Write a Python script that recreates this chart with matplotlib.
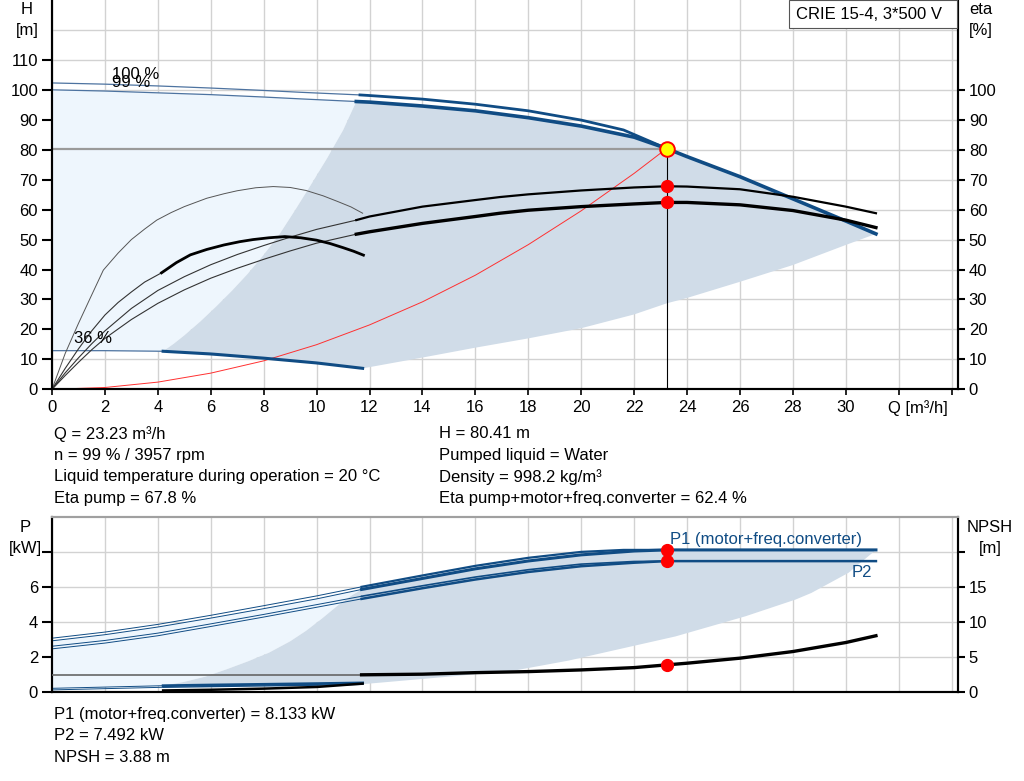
import matplotlib
matplotlib.use("Agg")
import matplotlib.pyplot as plt
from matplotlib.patches import Rectangle

plt.rcParams['font.family'] = ['Liberation Sans', 'DejaVu Sans']
plt.rcParams['font.size'] = 12

# ---------------- dati ----------------
# punto di lavoro
q_op = 23.23
h_op = 80.41
eta_pump_op = 67.8
eta_tot_op = 62.4
p1_op = 8.133
p2_op = 7.492
npsh_op = 3.88

# curva H a 100 %
q_h100_thin = [0, 2, 4, 6, 8, 9.35, 11.64]
h100_thin = [102.3, 101.9, 101.3, 100.6, 99.8, 99.2, 98.3]
q_h100_thick = [11.64, 12, 14, 16, 18, 20, 21.6, 23.23]
h100_thick = [98.3, 98.1, 96.9, 95.2, 93.0, 89.9, 86.6, 80.41]

# curva H a 99 %
q_h99_thin = [0, 2, 4, 6, 8, 9.35, 11.5]
h99_thin = [100.0, 99.6, 99.0, 98.4, 97.6, 97.0, 96.1]
q_h99_thick = [11.5, 12, 14, 16, 18, 20, 22, 23.23, 24, 26, 28, 30, 31.14]
h99_thick = [96.1, 95.9, 94.6, 93.0, 90.7, 87.9, 84.2, 80.41, 77.7, 71.0, 63.6, 56.2, 51.9]

# curva H a 36 %
q_h36_thin = [0, 2, 4.2]
h36_thin = [12.9, 12.9, 12.7]
q_h36_thick = [4.2, 6, 8, 10, 11.74]
h36_thick = [12.7, 11.8, 10.4, 8.8, 7.0]

# bordi della zona di lavoro (H)
q_dark_left = [4.2, 4.6, 5.0, 5.6, 6.2, 6.8, 7.4, 8.0, 8.6, 9.2, 9.8, 10.4, 11.0, 11.5]
h_dark_left = [12.7, 15.2, 18.0, 22.6, 27.6, 32.9, 38.6, 44.9, 51.8, 60.0, 68.5, 77.2, 86.5, 96.1]
q_dark_low = [11.74, 12, 14, 16, 18, 20, 22, 23.23, 24, 26, 28, 30, 31.14]
h_dark_low = [7.0, 7.4, 10.6, 13.9, 17.0, 20.4, 25.0, 28.7, 30.5, 35.9, 41.5, 48.2, 51.9]

# curva di impianto
q_sys = [0, 2, 4, 6, 8, 10, 12, 14, 16, 18, 20, 22, 23.23]
h_sys = [0, 0.6, 2.4, 5.4, 9.5, 14.9, 21.5, 29.2, 38.1, 48.3, 59.6, 72.1, 80.41]

# rendimenti
q_eta_p36 = [0, 0.5, 1, 1.5, 1.94, 2.5, 3, 3.5, 3.96, 4.5, 5, 5.85, 6.5, 7, 7.7, 8.36,
             9, 9.6, 10.25, 10.8, 11.3, 11.74]
eta_p36 = [0, 12.0, 22.0, 31.5, 39.8, 45.5, 50.0, 53.5, 56.5, 59.0, 61.0, 63.8, 65.3, 66.3,
           67.3, 67.7, 67.4, 66.4, 64.6, 62.7, 60.9, 58.8]
q_eta_t36_thin = [0, 0.5, 1, 1.5, 2, 2.5, 3, 3.5, 4.14]
eta_t36_thin = [0, 7.0, 13.5, 19.5, 24.8, 29.0, 32.5, 35.8, 38.9]
q_eta_t36_thick = [4.14, 4.7, 5.23, 5.85, 6.5, 7.1, 7.6, 8.2, 8.8, 9.4, 10, 10.5, 11, 11.4, 11.77]
eta_t36_thick = [38.9, 42.3, 44.9, 46.7, 48.2, 49.3, 50.0, 50.6, 51.0, 50.6, 49.8, 48.7, 47.3,
                 46.1, 44.8]
q_eta_p99_thin = [0, 0.5, 1, 1.5, 2, 3, 4, 5, 6, 7, 8, 9, 10, 11.5]
eta_p99_thin = [0, 5.5, 10.5, 15.2, 19.5, 27.0, 33.0, 37.6, 41.6, 45.0, 48.0, 50.8, 53.4, 56.5]
q_eta_p99_thick = [11.5, 12, 14, 16, 16.93, 18, 20, 22, 23.23, 24, 26, 28, 30, 31.14]
eta_p99_thick = [56.5, 57.7, 61.0, 63.2, 64.2, 65.1, 66.4, 67.4, 67.8, 67.7, 66.8, 64.3, 61.0, 58.8]
q_eta_t99_thin = [0, 0.5, 1, 1.5, 2, 3, 4, 5, 6, 7, 8, 9, 10, 11.5]
eta_t99_thin = [0, 4.6, 9.0, 13.2, 17.0, 23.3, 28.7, 33.2, 37.1, 40.4, 43.4, 46.2, 48.8, 51.8]
q_eta_t99_thick = [11.5, 12, 14, 16, 16.93, 18, 20, 22, 23.23, 24, 26, 28, 30, 31.14]
eta_t99_thick = [51.8, 52.6, 55.4, 57.7, 58.8, 59.8, 61.0, 61.9, 62.4, 62.4, 61.6, 59.7, 56.5, 54.0]

# potenze
q_p_thin = [0, 2, 4, 6, 8, 10, 11.7]
p1_100_thin = [3.08, 3.43, 3.87, 4.39, 4.94, 5.50, 6.02]
p1_99_thin = [2.93, 3.28, 3.72, 4.23, 4.77, 5.33, 5.87]
p2_100_thin = [2.62, 2.95, 3.37, 3.90, 4.44, 5.00, 5.48]
p2_99_thin = [2.47, 2.80, 3.22, 3.75, 4.29, 4.85, 5.33]
q_p1_100_thick = [11.7, 14, 16, 18, 20, 21.6, 23.23]
p1_100_thick = [6.02, 6.67, 7.22, 7.68, 8.02, 8.133, 8.133]
q_p99_thick = [11.7, 14, 16, 18, 20, 22, 23.23, 31.14]
p1_99_thick = [5.87, 6.50, 7.05, 7.50, 7.85, 8.07, 8.133, 8.133]
p2_99_thick = [5.33, 5.94, 6.44, 6.87, 7.20, 7.40, 7.492, 7.492]
q_p2_100_thick = [11.7, 14, 16, 18, 20, 22, 23.23]
p2_100_thick = [5.48, 6.08, 6.58, 7.00, 7.32, 7.47, 7.492]

q_p36_thin = [0, 4.2]
p1_36_thin = [0.21, 0.36]
p2_36_thin = [0.12, 0.27]
q_p36_thick = [4.2, 6, 8, 10, 11.74]
p1_36_thick = [0.36, 0.40, 0.44, 0.48, 0.52]
p2_36_thick = [0.27, 0.31, 0.35, 0.39, 0.44]

# bordi della zona di lavoro (P)
q_pdark_left = [4.2, 5.0, 5.8, 6.6, 7.4, 8.2, 9.0, 9.6, 10.2, 10.8, 11.3, 11.7]
p_dark_left = [0.36, 0.58, 0.88, 1.30, 1.75, 2.25, 2.90, 3.50, 4.20, 4.95, 5.50, 5.87]
q_pdark_low = [11.76, 14.4, 17.38, 19.53, 23.56, 26.2, 28.1, 28.7, 30.1, 31.14]
p_dark_low = [0.45, 0.80, 1.20, 1.80, 3.18, 4.33, 5.29, 5.67, 6.82, 8.133]

# NPSH
q_npsh_thin = [0, 11.7]
npsh_thin = [2.47, 2.47]
q_npsh = [11.7, 14, 16, 18, 20, 22, 23.23, 24, 26, 28, 30, 31.14]
npsh = [2.46, 2.55, 2.77, 2.92, 3.16, 3.49, 3.88, 4.12, 4.84, 5.79, 7.08, 8.05]
q_npsh36 = [4.2, 6, 8, 10, 11.74]
npsh36 = [0.22, 0.32, 0.48, 0.72, 1.20]

# assi
x_ticks = list(range(0, 36, 2))
x_labels = [str(v) if v <= 30 else '' for v in x_ticks]
h_ticks = list(range(0, 120, 10))
eta_ticks = list(range(0, 110, 10))
p_ticks = [0, 2, 4, 6, 8]
p_labels = ['0', '2', '4', '6', '']
npsh_ticks = [0, 5, 10, 15, 20]
npsh_labels = ['0', '5', '10', '15', '']

info_left = ["Q = 23.23 m³/h", "n = 99 % / 3957 rpm",
             "Liquid temperature during operation = 20 °C", "Eta pump = 67.8 %"]
info_right = ["H = 80.41 m", "Pumped liquid = Water", "Density = 998.2 kg/m³",
              "Eta pump+motor+freq.converter = 62.4 %"]
info_bottom = ["P1 (motor+freq.converter) = 8.133 kW", "P2 = 7.492 kW", "NPSH = 3.88 m"]

BLU = '#104c84'
BLU_THIN = '#4d73a0'
CHIARO = '#eef6fd'
SCURO = '#d0dce8'
GRIGLIA = '#d2d2d2'
W, H = 1024, 781


def px(x, y):
    # coordinate in pixel -> frazione di figura
    return x / W, 1 - y / H


def prepara_asse(ax, ylim, yticks):
    ax.set_xlim(0, 34.23)
    ax.set_ylim(*ylim)
    ax.set_xticks(x_ticks)
    ax.set_yticks(yticks)
    ax.grid(True, color=GRIGLIA, linewidth=1.0, zorder=0)
    ax.set_axisbelow(True)
    for lato in ['left', 'bottom', 'right']:
        ax.spines[lato].set_linewidth(1.5)
    ax.spines['top'].set_visible(False)


fig = plt.figure(figsize=(W / 100, H / 100), dpi=100)

# ---------------- grafico H / eta ----------------
ax1 = fig.add_axes([52 / W, 1 - 389.3 / H, 905.7 / W, 389.3 / H])
prepara_asse(ax1, (0, 130), h_ticks)
ax1.set_xticklabels(x_labels)
ax1.tick_params(axis='x', length=4, width=1.2, pad=4)
ax1.tick_params(axis='y', length=7, width=1.5, pad=3)
ax1.yaxis.grid(False)
for yv in range(10, 130, 10):
    ax1.axhline(yv, color=GRIGLIA, linewidth=1.0, zorder=0)

# zone di lavoro
ax1.fill(q_h99_thin + q_dark_left[::-1] + q_h36_thin[::-1],
         h99_thin + h_dark_left[::-1] + h36_thin[::-1], color=CHIARO, lw=0, zorder=1)
ax1.fill(q_h99_thick + q_dark_low[::-1] + q_h36_thick[::-1] + q_dark_left,
         h99_thick + h_dark_low[::-1] + h36_thick[::-1] + h_dark_left,
         color=SCURO, lw=0, zorder=1)

# linee del punto di lavoro
ax1.plot([0, q_op], [h_op, h_op], color='#9a9a9a', lw=1.6, zorder=2)
ax1.plot([q_op, q_op], [0, h_op], color='black', lw=0.8, zorder=2)

# curve H
ax1.plot(q_h100_thin, h100_thin, color=BLU_THIN, lw=0.9, zorder=3)
ax1.plot(q_h99_thin, h99_thin, color=BLU_THIN, lw=0.9, zorder=3)
ax1.plot(q_h36_thin, h36_thin, color=BLU_THIN, lw=0.9, zorder=3)
ax1.plot(q_h100_thick, h100_thick, color=BLU, lw=2.0, zorder=4)
ax1.plot(q_h99_thick, h99_thick, color=BLU, lw=2.6, zorder=4)
ax1.plot(q_h36_thick, h36_thick, color=BLU, lw=2.2, zorder=4)

# rendimenti
ax1.plot(q_eta_p36, eta_p36, color='#555555', lw=0.7, zorder=3)
ax1.plot(q_eta_t36_thin, eta_t36_thin, color='#333333', lw=0.8, zorder=3)
ax1.plot(q_eta_t36_thick, eta_t36_thick, color='black', lw=2.0, zorder=4)
ax1.plot(q_eta_p99_thin, eta_p99_thin, color='#333333', lw=0.8, zorder=3)
ax1.plot(q_eta_p99_thick, eta_p99_thick, color='black', lw=1.6, zorder=4)
ax1.plot(q_eta_t99_thin, eta_t99_thin, color='#333333', lw=0.8, zorder=3)
ax1.plot(q_eta_t99_thick, eta_t99_thick, color='black', lw=2.4, zorder=4)

# curva di impianto
ax1.plot(q_sys, h_sys, color='#ff3030', lw=0.7, zorder=3)

# punti
ax1.plot(q_op, eta_pump_op, 'o', color='red', ms=8.5, zorder=6)
ax1.plot(q_op, eta_tot_op, 'o', color='red', ms=8.5, zorder=6)
ax1.plot(q_op, h_op, 'o', color='#ffff00', mec='red', mew=1.4, ms=10.5, zorder=6)

ax1.text(2.27, 105, "100 %", va='center', ha='left', zorder=5)
ax1.text(2.27, 102.6, "99 %", va='center', ha='left', zorder=5)
ax1.text(0.83, 16.8, "36 %", va='center', ha='left', zorder=5)

ax1r = ax1.twinx()
ax1r.set_ylim(0, 130)
ax1r.set_yticks(eta_ticks)
ax1r.tick_params(axis='y', length=5, width=1.5, pad=3)
for lato in ['left', 'bottom', 'right']:
    ax1r.spines[lato].set_linewidth(1.5)
ax1r.spines['top'].set_visible(False)

# riquadro del modello
fig.patches.append(Rectangle(px(789.3, 28.3), 167.4 / W, 28.3 / H, transform=fig.transFigure,
                             facecolor='white', edgecolor='#555555', lw=0.8, zorder=10))
fig.text(*px(796, 14.5), "CRIE 15-4, 3*500 V", va='center', ha='left', zorder=11)

# etichette assi
fig.text(*px(27, 10), "H", ha='center', va='center')
fig.text(*px(27, 30), "[m]", ha='center', va='center')
fig.text(*px(981, 10), "eta", ha='center', va='center')
fig.text(*px(981, 30), "[%]", ha='center', va='center')
fig.text(*px(888, 408), "Q [m³/h]", ha='left', va='center')

for i, riga in enumerate(info_left):
    fig.text(*px(54, 434 + i * 21.5), riga, ha='left', va='center')
for i, riga in enumerate(info_right):
    fig.text(*px(439, 434 + i * 21.5), riga, ha='left', va='center')

# ---------------- grafico P / NPSH ----------------
ax2 = fig.add_axes([52 / W, 1 - 692 / H, 905.7 / W, 174.7 / H])
prepara_asse(ax2, (0, 10), p_ticks)
ax2.set_yticklabels(p_labels)
ax2.tick_params(axis='x', length=0, labelbottom=False)
ax2.tick_params(axis='y', length=7, width=1.5, pad=3)
ax2.spines['top'].set_visible(True)
ax2.spines['top'].set_color('#a0a0a0')
ax2.spines['top'].set_linewidth(1.5)

ax2.fill(q_p_thin + q_pdark_left[::-1] + q_p36_thin[::-1],
         p1_99_thin + p_dark_left[::-1] + p1_36_thin[::-1], color=CHIARO, lw=0, zorder=1)
ax2.fill(q_p99_thick + q_pdark_low[::-1] + q_p36_thick[::-1] + q_pdark_left,
         p1_99_thick + p_dark_low[::-1] + p1_36_thick[::-1] + p_dark_left,
         color=SCURO, lw=0, zorder=1)

for serie in [p1_100_thin, p1_99_thin, p2_100_thin, p2_99_thin]:
    ax2.plot(q_p_thin, serie, color=BLU, lw=0.7, zorder=3)
ax2.plot(q_p36_thin, p1_36_thin, color=BLU, lw=0.7, zorder=3)
ax2.plot(q_p36_thin, p2_36_thin, color=BLU, lw=0.7, zorder=3)
ax2.plot(q_p1_100_thick, p1_100_thick, color=BLU, lw=1.6, zorder=4)
ax2.plot(q_p99_thick, p1_99_thick, color=BLU, lw=2.2, zorder=4)
ax2.plot(q_p2_100_thick, p2_100_thick, color=BLU, lw=1.2, zorder=4)
ax2.plot(q_p99_thick, p2_99_thick, color=BLU, lw=1.8, zorder=4)
ax2.plot(q_p36_thick, p1_36_thick, color=BLU, lw=2.0, zorder=4)
ax2.plot(q_p36_thick, p2_36_thick, color=BLU, lw=1.0, zorder=4)

ax2.plot(q_op, p1_op, 'o', color='red', ms=8.5, zorder=6)
ax2.plot(q_op, p2_op, 'o', color='red', ms=8.5, zorder=6)
ax2.text(23.36, 8.75, "P1 (motor+freq.converter)", color=BLU, ha='left', va='center', zorder=5)
ax2.text(31.0, 6.85, "P2", color=BLU, ha='right', va='center', zorder=5)

ax2r = ax2.twinx()
ax2r.set_ylim(0, 25)
ax2r.set_yticks(npsh_ticks)
ax2r.set_yticklabels(npsh_labels)
ax2r.tick_params(axis='y', length=5, width=1.5, pad=3)
for lato in ['left', 'bottom', 'right']:
    ax2r.spines[lato].set_linewidth(1.5)
ax2r.spines['top'].set_color('#a0a0a0')
ax2r.spines['top'].set_linewidth(1.5)
ax2r.plot(q_npsh_thin, npsh_thin, color='#666666', lw=1.2, zorder=3)
ax2r.plot(q_npsh, npsh, color='black', lw=2.4, zorder=4)
ax2r.plot(q_npsh36, npsh36, color='black', lw=1.8, zorder=4)
ax2r.plot(q_op, npsh_op, 'o', color='red', ms=8.5, zorder=6)

fig.text(*px(25, 527), "P", ha='center', va='center')
fig.text(*px(25, 548), "[kW]", ha='center', va='center')
fig.text(*px(990, 527), "NPSH", ha='center', va='center')
fig.text(*px(990, 548), "[m]", ha='center', va='center')

for i, riga in enumerate(info_bottom):
    fig.text(*px(54, 714 + i * 21.5), riga, ha='left', va='center')

fig.savefig("out.png", dpi=100)
